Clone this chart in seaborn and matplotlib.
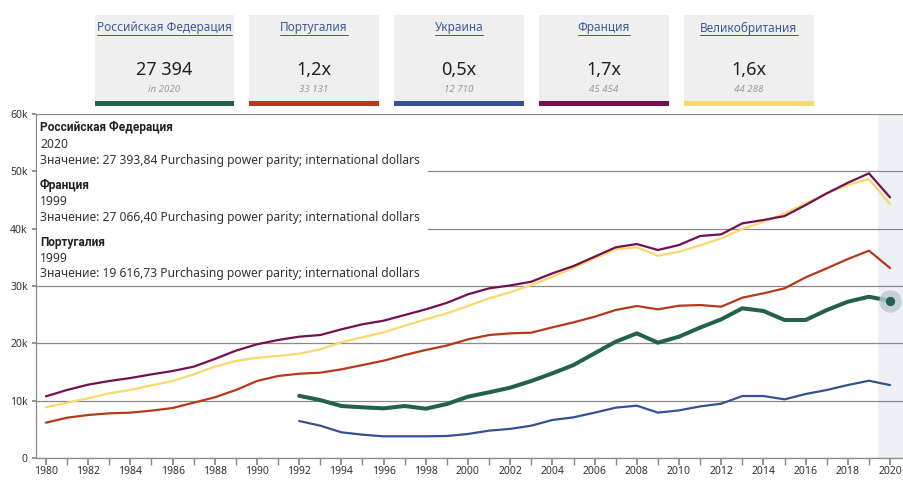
import numpy as np
import pandas as pd
import matplotlib
matplotlib.use("Agg")
import matplotlib.pyplot as plt
import seaborn as sns
from matplotlib.patches import Rectangle
from matplotlib.lines import Line2D

# ---------------- data ----------------
years_full = list(range(1980, 2021))
years_post = list(range(1992, 2021))

russia = [10850, 10100, 9070, 8840, 8660, 9070, 8600, 9420, 10700, 11460, 12270,
          13430, 14770, 16220, 18260, 20290, 21740, 20110, 21160, 22750, 24190,
          26110, 25640, 24070, 24070, 25810, 27260, 28130, 27394]
ukraine = [6450, 5640, 4480, 4070, 3780, 3780, 3780, 3840, 4190, 4770, 5080,
           5640, 6630, 7090, 7910, 8780, 9130, 7910, 8310, 9000, 9470,
           10810, 10810, 10230, 11160, 11860, 12730, 13480, 12710]
portugal = [6160, 7030, 7500, 7790, 7910, 8260, 8720, 9650, 10580, 11860, 13430,
            14300, 14700, 14880, 15460, 16220, 16970, 17960, 18840, 19617, 20700,
            21450, 21740, 21860, 22790, 23660, 24640, 25810, 26510, 25930, 26560,
            26680, 26390, 27960, 28720, 29590, 31510, 33080, 34710, 36160, 33131]
france = [10760, 11860, 12790, 13430, 13950, 14590, 15170, 15930, 17270, 18720, 19830,
          20580, 21160, 21450, 22440, 23320, 23950, 24940, 25930, 27066, 28550,
          29590, 30100, 30750, 32210, 33480, 35110, 36750, 37320, 36280, 37150,
          38720, 39010, 40930, 41510, 42200, 44120, 46160, 48010, 49650, 45454]
uk = [8840, 9650, 10410, 11280, 11860, 12680, 13430, 14590, 15930, 16920, 17490,
      17790, 18200, 18950, 20180, 21050, 21920, 23070, 24190, 25240, 26510,
      27850, 28900, 30170, 31620, 33190, 34830, 36400, 36750, 35280, 35980,
      37090, 38310, 39940, 41220, 42670, 44420, 46160, 47610, 48660, 44288]

countries = ["Российская Федерация", "Португалия", "Украина", "Франция", "Великобритания"]
colors = ["#23614a", "#b5391a", "#34528f", "#741052", "#f8d96b"]
card_main = ["27 394", "1,2x", "0,5x", "1,7x", "1,6x"]
card_sub = ["in 2020", "33 131", "12 710", "45 454", "44 288"]

tooltip_names = ["Российская Федерация", "Франция", "Португалия"]
tooltip_years = ["2020", "1999", "1999"]
tooltip_vals = ["27 393,84", "27 066,40", "19 616,73"]

# ---------------- long table ----------------
series = {
    "Российская Федерация": (years_post, russia),
    "Португалия": (years_full, portugal),
    "Украина": (years_post, ukraine),
    "Франция": (years_full, france),
    "Великобритания": (years_full, uk),
}
rows = []
for name, (yrs, vals) in series.items():
    for y, v in zip(yrs, vals):
        rows.append({"country": name, "year": y, "value": v})
df = pd.DataFrame(rows)
palette = dict(zip(countries, colors))

# ---------------- figure ----------------
W, H = 904, 486
sns.set_theme(style="white")
plt.rcParams["font.family"] = ["Noto Sans", "DejaVu Sans"]
fig = plt.figure(figsize=(W / 100, H / 100), dpi=100)
fig.patch.set_facecolor("white")

def fx(px):
    return px / W

def fy(py):
    return 1 - py / H

ax = fig.add_axes([fx(36), fy(458), fx(904) - fx(36), fy(114) - fy(458)])
ax.set_facecolor("white")

xmin, xmax = 1979.53, 2020.66
ax.axvspan(2019.45, xmax, color="#edf0f5", zorder=0, lw=0)

others = df[df["country"] != "Российская Федерация"]
sns.lineplot(data=others, x="year", y="value", hue="country", palette=palette,
             hue_order=["Великобритания", "Франция", "Португалия", "Украина"],
             estimator=None, linewidth=1.6, legend=False, ax=ax, zorder=3)
sns.lineplot(data=df[df["country"] == "Российская Федерация"], x="year", y="value",
             color=palette["Российская Федерация"], estimator=None, linewidth=2.9,
             legend=False, ax=ax, zorder=4)

# highlighted point
ax.scatter([years_post[-1]], [russia[-1]], s=260, color="#bcc8cb", alpha=0.8,
           zorder=5, linewidths=0)
ax.scatter([years_post[-1]], [russia[-1]], s=45, color=palette["Российская Федерация"],
           zorder=6, linewidths=0)

ax.set_xlim(xmin, xmax)
ax.set_ylim(0, 60000)
ax.set_yticks(range(0, 60001, 10000))
ax.set_yticklabels(["0", "10k", "20k", "30k", "40k", "50k", "60k"])
ax.set_xticks(range(1980, 2021, 2))
ax.set_xticks(range(1980, 2021, 1), minor=True)
ax.set_xticklabels([str(y) for y in range(1980, 2021, 2)])
ax.tick_params(axis="x", which="both", length=5, color="#888888", direction="out",
               labelsize=7.5, labelcolor="#333333", pad=1, bottom=True)
ax.tick_params(axis="y", length=3, color="#888888", labelsize=7.5,
               labelcolor="#333333", pad=3, left=True)
ax.yaxis.grid(True, color="#8a8a8a", lw=0.9, zorder=1)
ax.xaxis.grid(False)
ax.set_axisbelow(True)
for s in ["top", "right"]:
    ax.spines[s].set_visible(False)
for s in ["left", "bottom"]:
    ax.spines[s].set_color("#8a8a8a")
    ax.spines[s].set_linewidth(0.9)
ax.set_xlabel("")
ax.set_ylabel("")

# ---------------- tooltip ----------------
fig.add_artist(Rectangle((fx(37), fy(283)), fx(428) - fx(37), fy(116) - fy(283),
                         transform=fig.transFigure, facecolor="white",
                         edgecolor="none", zorder=7))
block_tops = [128, 185, 242]
for i in range(3):
    t = block_tops[i]
    fig.text(fx(40), fy(t), tooltip_names[i], fontsize=8.6, fontweight="bold",
             family=["Roboto", "DejaVu Sans"],
             color="#222222", va="center", ha="left", zorder=8)
    fig.text(fx(40), fy(t + 16), tooltip_years[i], fontsize=8.7,
             color="#333333", va="center", ha="left", zorder=8)
    fig.text(fx(40), fy(t + 32),
             "Значение: " + tooltip_vals[i] + " Purchasing power parity; international dollars",
             fontsize=8.7, color="#333333", va="center", ha="left", zorder=8)

# ---------------- cards ----------------
card_x = [(95, 234), (249, 379), (394, 524), (539, 669), (684, 814)]
title_texts = []
for i, (x0, x1) in enumerate(card_x):
    fig.add_artist(Rectangle((fx(x0), fy(101)), fx(x1) - fx(x0), fy(15) - fy(101),
                             transform=fig.transFigure, facecolor="#efefef",
                             edgecolor="none", zorder=1))
    fig.add_artist(Rectangle((fx(x0), fy(106)), fx(x1) - fx(x0), fy(101) - fy(106),
                             transform=fig.transFigure, facecolor=colors[i],
                             edgecolor="none", zorder=2))
    cx = (x0 + x1) / 2
    tt = fig.text(fx(cx), fy(28), countries[i], fontsize=8.5, color="#3b5b9b",
                  ha="center", va="center", zorder=3)
    title_texts.append(tt)
    fig.text(fx(cx), fy(70), card_main[i], fontsize=13, color="#222222",
             ha="center", va="center", zorder=3)
    fig.text(fx(cx), fy(89), card_sub[i], fontsize=7, color="#9a9a9a",
             style="italic", ha="center", va="center", zorder=3)

fig.canvas.draw()
r = fig.canvas.get_renderer()
for tt in title_texts:
    bb = tt.get_window_extent(renderer=r)
    yline = fy(35)
    fig.add_artist(Line2D([bb.x0 / W, bb.x1 / W], [yline, yline],
                          transform=fig.transFigure, color="#3b5b9b", lw=0.7,
                          zorder=3))

fig.savefig("out.png", dpi=100, facecolor="white")
